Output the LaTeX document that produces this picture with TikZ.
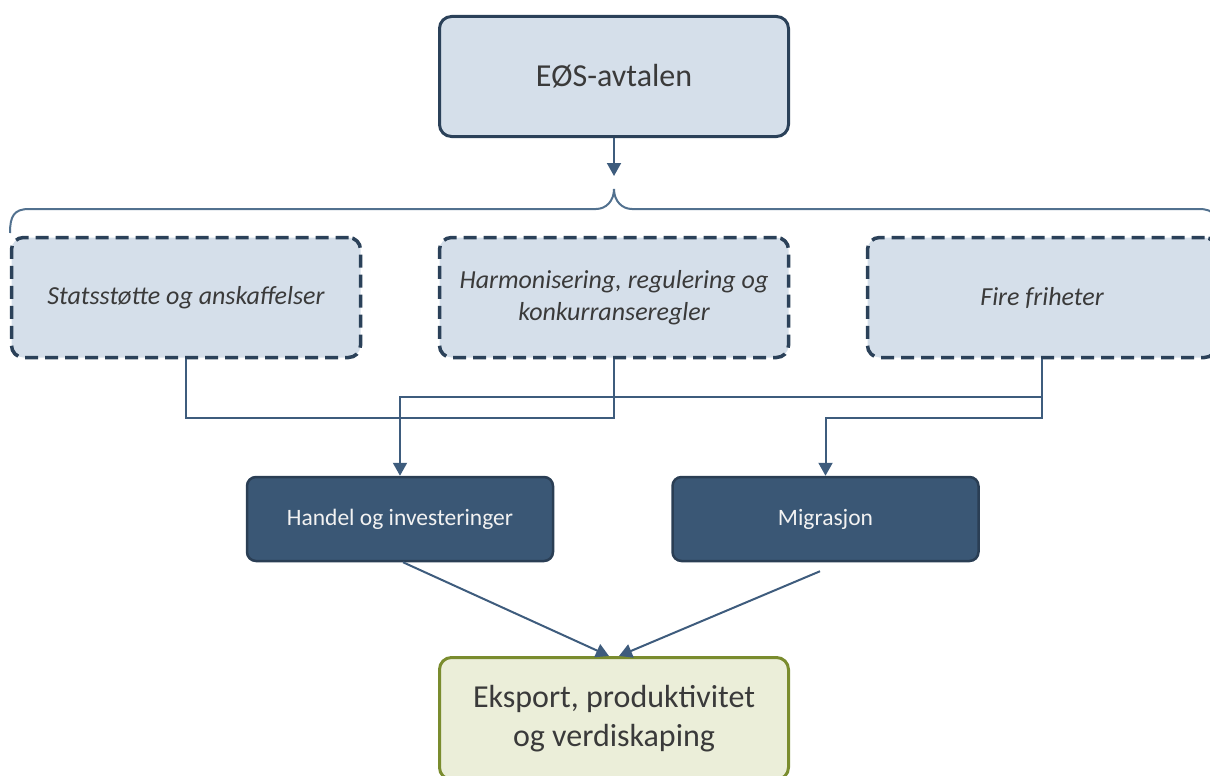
\documentclass[tikz,border=0pt]{standalone}
\usepackage{fontspec}
\setmainfont{Carlito}
\usetikzlibrary{arrows.meta}
\definecolor{lightfill}{HTML}{D5DFEA}
\definecolor{darkline}{HTML}{2B4159}
\definecolor{conncol}{HTML}{3E5C7D}
\definecolor{bracecol}{HTML}{52718F}
\definecolor{darkfill}{HTML}{3A5775}
\definecolor{darkborder}{HTML}{2A3E54}
\definecolor{olivefill}{HTML}{EBEED9}
\definecolor{oliveline}{HTML}{7A8C2E}
\definecolor{txt}{HTML}{3A3A3A}
\definecolor{lighttxt}{HTML}{F2F2F2}
\begin{document}
\begin{tikzpicture}[x=1pt,y=-1pt,
  topbox/.style={draw=darkline, line width=3pt, fill=lightfill, rounded corners=12pt,
    minimum width=349pt, minimum height=120pt, inner sep=0pt, text=txt,
    font=\fontsize{32}{39}\selectfont, align=center},
  dashbox/.style={draw=darkline, line width=3.5pt, dash pattern=on 13pt off 7pt,
    fill=lightfill, rounded corners=12pt, minimum width=349pt, minimum height=120pt,
    inner sep=0pt, text=txt, font=\fontsize{26}{32}\selectfont\itshape, align=center},
  darkbox/.style={draw=darkborder, line width=2.5pt, fill=darkfill, rounded corners=9pt,
    minimum width=306pt, minimum height=84pt, inner sep=0pt, text=lighttxt,
    font=\fontsize{23.5}{28}\selectfont, align=center},
  olivebox/.style={draw=oliveline, line width=3pt, fill=olivefill, rounded corners=12pt,
    minimum width=349pt, minimum height=122pt, inner sep=0pt, text=txt,
    font=\fontsize{32}{39}\selectfont, align=center},
  conn/.style={draw=conncol, line width=2pt},
  arr/.style={conn, -{Triangle[length=13pt,width=14pt]}},
  bracestyle/.style={draw=bracecol, line width=2pt}
]
\useasboundingbox (0,0) rectangle (1210,776);
\begin{scope}
\clip (0,0) rectangle (1210,776);

\node[topbox] (eos) at (614,76.5) {EØS-avtalen};

\node[dashbox] (s1) at (186,297.5) {Statsstøtte og anskaffelser};
\node[dashbox] (s2) at (614,297.5) {Harmonisering, regulering og\\konkurranseregler};
\node[dashbox] (s3) at (1042,297.5) {Fire friheter};

\node[darkbox] (handel) at (400,519) {Handel og investeringer};
\node[darkbox] (mig) at (825.5,519) {Migrasjon};

\node[olivebox] (eks) at (614,718.5) {Eksport, produktivitet\\og verdiskaping};

% brace
\draw[bracestyle] (10,233) .. controls (10,216) and (14,209) .. (29,209)
  -- (596,209) .. controls (606,209) and (614,201) .. (614,189)
  .. controls (614,201) and (622,209) .. (632,209)
  -- (1199,209) .. controls (1214,209) and (1218,216) .. (1218,233);

\coordinate (bt) at (614,176);
\draw[arr] (eos) -- (bt);

% connectors
\coordinate (j1) at (614,418);
\coordinate (c1) at (400,397);
\coordinate (c2) at (825.5,418);
\draw[conn] (s1.south) |- (j1) -- (s2.south);
\draw[arr] (s3.south) |- (c1) -- (handel.north);
\draw[arr] (s3.south) |- (c2) -- (mig.north);

\draw[arr] ([xshift=3pt]handel.south) -- ([xshift=-5pt]eks.north);
\draw[arr] ([xshift=-5.5pt,yshift=-9pt]mig.south) -- ([xshift=5pt]eks.north);
\end{scope}
\end{tikzpicture}
\end{document}
